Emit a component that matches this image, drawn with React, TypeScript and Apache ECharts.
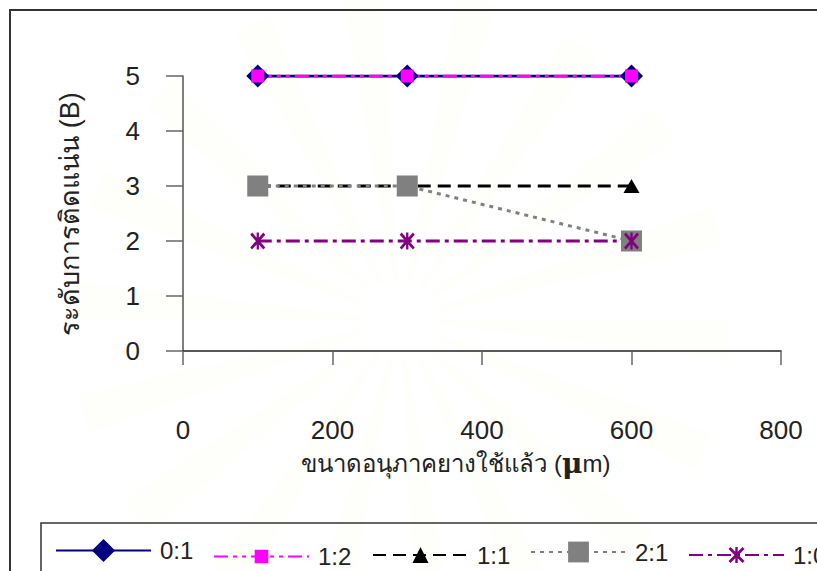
import React, { useEffect, useRef } from "react";
import * as echarts from "echarts";

// ---- data ----
const xValues = [100, 300, 600];
const seriesNames = ["0:1", "1:2", "1:1", "2:1", "1:0"];
const s01 = [5, 5, 5];
const s12 = [5, 5, 5];
const s11 = [3, 3, 3];
const s21 = [3, 3, 2];
const s10 = [2, 2, 2];
const xTicks = { min: 0, max: 800, interval: 200 };
const yTicks = { min: 0, max: 5, interval: 1 };
const xTitle = "ขนาดอนุภาคยางใช้แล้ว (";
const xTitleMu = "μ";
const xTitleEnd = "m)";
const yTitle = "ระดับการติดแน่น (B)";

const STAR =
  "path://M8.5 0H11.5V20H8.5Z M0 2.5L2.5 0L20 17.5L17.5 20Z M17.5 0L20 2.5L2.5 20L0 17.5Z";

const FONT = "Liberation Sans, Arial, sans-serif";

export default function App() {
  const ref = useRef<HTMLDivElement>(null);
  useEffect(() => {
    if (!ref.current) return;
    const chart = echarts.init(ref.current, null, { renderer: "svg" });
    const values = [s01, s12, s11, s21, s10];
    const styles = [
      { color: "#000080", type: "solid", width: 3, symbol: "diamond", size: 23 },
      { color: "#FF00FF", type: [14, 5, 4, 5, 4, 5], width: 3, symbol: "rect", size: 13 },
      { color: "#000000", type: [13, 7], width: 3, symbol: "triangle", size: [16, 14] },
      { color: "#808080", type: [4, 5], width: 3, symbol: "rect", size: 21 },
      { color: "#800080", type: [14, 5, 4, 5], width: 3, symbol: STAR, size: [15, 17] },
    ];
    const legendLeft = [55, 213, 372, 530, 688];
    const legendH = [29, 17, 20, 26, 20];

    const rays: any[] = [];
    for (let i = 0; i < 18; i++) {
      const a0 = (Math.PI * 2 * i) / 18;
      rays.push({
        type: "sector",
        z: -10,
        shape: { cx: 400, cy: 320, r0: 40, r: 330, startAngle: a0, endAngle: a0 + 0.12 },
        style: { fill: "rgba(240,220,150,0.035)" },
        silent: true,
      });
    }

    chart.setOption({
      animation: false,
      backgroundColor: "#ffffff",
      grid: { left: 183, right: 36, top: 76, bottom: 220, containLabel: false },
      xAxis: {
        type: "value",
        min: xTicks.min,
        max: xTicks.max,
        interval: xTicks.interval,
        axisLine: { show: true, lineStyle: { color: "#222", width: 1.5 } },
        axisTick: { show: true, length: 14, lineStyle: { color: "#666", width: 1.5 } },
        axisLabel: { margin: 69, fontSize: 26, lineHeight: 20, color: "#222", fontFamily: FONT },
        splitLine: { show: false },
      },
      yAxis: {
        type: "value",
        min: yTicks.min,
        max: yTicks.max,
        interval: yTicks.interval,
        axisLine: { show: true, lineStyle: { color: "#555", width: 1.5 } },
        axisTick: { show: true, length: 17, lineStyle: { color: "#666", width: 1.5 } },
        axisLabel: { margin: 43, fontSize: 26, color: "#222", fontFamily: FONT },
        splitLine: { show: false },
      },
      legend: seriesNames.map((n, i) => ({
        data: [n],
        left: legendLeft[i],
        top: 553 - legendH[i] / 2,
        itemWidth: 95,
        itemHeight: legendH[i],
        padding: 0,
        selectedMode: false,
        textStyle: { fontSize: 24, color: "#222", fontFamily: FONT, padding: [0, 0, 0, 4] },
      })),
      graphic: [
        ...rays,
        {
          type: "rect",
          shape: { x: 10, y: 10, width: 900, height: 700 },
          style: { fill: "none", stroke: "#333", lineWidth: 2 },
          silent: true,
        },
        {
          type: "rect",
          shape: { x: 41, y: 523, width: 900, height: 200 },
          style: { fill: "none", stroke: "#333", lineWidth: 1.5 },
          silent: true,
        },
        {
          type: "text",
          x: 456,
          y: 463,
          style: {
            text: "{a|" + xTitle + "}{m|" + xTitleMu + "}{a|" + xTitleEnd + "}",
            align: "center",
            verticalAlign: "middle",
            rich: {
              a: { fontSize: 24, lineHeight: 18, fontFamily: FONT, fill: "#222" },
              m: { fontSize: 28, lineHeight: 18, fontWeight: "bold", fontFamily: "DejaVu Serif, serif", fill: "#222" },
            },
          },
        },
        {
          type: "text",
          x: 70,
          y: 214,
          rotation: Math.PI / 2,
          style: {
            text: yTitle,
            align: "center",
            verticalAlign: "middle",
            fontSize: 27,
            fontFamily: FONT,
            fill: "#222",
          },
        },
      ],
      series: seriesNames.map((n, i) => ({
        name: n,
        type: "line",
        data: xValues.map((x, j) => [x, values[i][j]]),
        symbol: styles[i].symbol,
        symbolSize: styles[i].size,
        itemStyle: { color: styles[i].color },
        lineStyle: { color: styles[i].color, width: styles[i].width, type: styles[i].type },
        showSymbol: true,
      })),
    });
    return () => chart.dispose();
  }, []);
  return (
    <div
      ref={ref}
      style={{ position: "absolute", left: 0, top: 0, width: 817, height: 571, background: "#fff" }}
    />
  );
}
